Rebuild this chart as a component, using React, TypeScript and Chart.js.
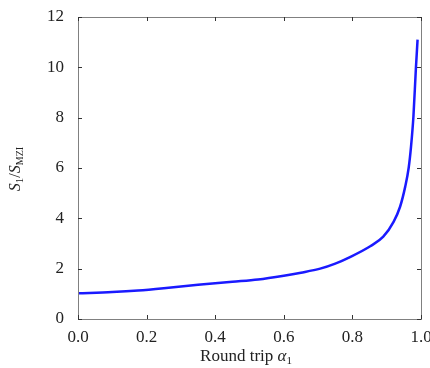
import React, { useEffect, useRef } from "react";
import { Chart, registerables } from "chart.js";

Chart.register(...registerables);

const alphaValues = [0, 0.1, 0.175, 0.25, 0.35, 0.45, 0.525, 0.6, 0.65, 0.706, 0.75, 0.793, 0.852, 0.89, 0.92, 0.939, 0.954, 0.964, 0.971, 0.978, 0.985, 0.99];
const ratioValues = [1.02, 1.07, 1.13, 1.22, 1.36, 1.48, 1.57, 1.72, 1.84, 2.0, 2.2, 2.46, 2.89, 3.27, 3.86, 4.46, 5.26, 6.0, 6.86, 8.06, 9.93, 11.1];
const xTicks = [0, 0.2, 0.4, 0.6, 0.8, 1.0];
const yTicks = [0, 2, 4, 6, 8, 10, 12];

const FONT = "'Liberation Serif', 'Times New Roman', serif";

const framePlugin = {
  id: "frame",
  afterDraw(chart: any) {
    const { ctx, chartArea: a, scales } = chart;
    const xs = scales.x;
    const ys = scales.y;
    ctx.save();
    ctx.strokeStyle = "#808080";
    ctx.lineWidth = 1;
    ctx.strokeRect(Math.round(a.left) + 0.5, Math.round(a.top) + 0.5, Math.round(a.right - a.left), Math.round(a.bottom - a.top));
    ctx.strokeStyle = "#333";
    const len = 4;
    ctx.beginPath();
    xTicks.forEach((v) => {
      const px = Math.round(xs.getPixelForValue(v)) + 0.5;
      ctx.moveTo(px, a.bottom);
      ctx.lineTo(px, a.bottom - len);
      ctx.moveTo(px, a.top);
      ctx.lineTo(px, a.top + len);
    });
    yTicks.forEach((v) => {
      const py = Math.round(ys.getPixelForValue(v)) + 0.5;
      ctx.moveTo(a.left, py);
      ctx.lineTo(a.left + len, py);
      ctx.moveTo(a.right, py);
      ctx.lineTo(a.right - len, py);
    });
    ctx.stroke();

    // Y title: S_1/S_MZI rotated
    ctx.fillStyle = "#222";
    ctx.textBaseline = "alphabetic";
    ctx.textAlign = "left";
    const parts: [string, string, number][] = [
      ["S", "italic 16px " + FONT, 0],
      ["1", "11px " + FONT, 3],
      ["/", "16px " + FONT, 0],
      ["S", "italic 16px " + FONT, 0],
      ["MZI", "10px " + FONT, 3],
    ];
    let total = 0;
    parts.forEach(([t, f]) => {
      ctx.font = f;
      total += ctx.measureText(t).width;
    });
    ctx.translate(20, 169);
    ctx.rotate(-Math.PI / 2);
    let x = -total / 2;
    parts.forEach(([t, f, dy]) => {
      ctx.font = f;
      ctx.fillText(t, x, dy);
      x += ctx.measureText(t).width;
    });
    ctx.setTransform(1, 0, 0, 1, 0, 0);

    // X title: Round trip α_1
    const xparts: [string, string, number][] = [
      ["Round trip ", "17px " + FONT, 0],
      ["α", "italic 17px " + FONT, 0],
      ["1", "11px " + FONT, 3],
    ];
    total = 0;
    xparts.forEach(([t, f]) => {
      ctx.font = f;
      total += ctx.measureText(t).width;
    });
    x = 246 - total / 2;
    xparts.forEach(([t, f, dy]) => {
      ctx.font = f;
      ctx.fillText(t, x, 361 + dy);
      x += ctx.measureText(t).width;
    });
    ctx.restore();
  },
};

export default function App() {
  const ref = useRef<HTMLCanvasElement>(null);
  useEffect(() => {
    if (!ref.current) return;
    const chart = new Chart(ref.current, {
      type: "line",
      data: {
        datasets: [
          {
            data: alphaValues.map((a, i) => ({ x: a, y: ratioValues[i] })),
            borderColor: "#1a1aff",
            borderWidth: 2.5,
            pointRadius: 0,
            fill: false,
            cubicInterpolationMode: "monotone",
          },
        ],
      },
      options: {
        animation: false,
        responsive: false,
        maintainAspectRatio: false,
        layout: { padding: { top: 17, right: 9, left: 0, bottom: 0 } },
        plugins: { legend: { display: false }, tooltip: { enabled: false } },
        scales: {
          x: {
            type: "linear",
            min: 0,
            max: 1,
            grid: { display: false, drawTicks: false },
            border: { display: false },
            ticks: {
              stepSize: 0.2,
              color: "#222",
              padding: 8,
              maxRotation: 0,
              font: { family: FONT, size: 17 },
              callback: (v: any) => Number(v).toFixed(1),
            },
            afterFit: (s: any) => {
              s.height = 49;
              s.paddingLeft = 0;
              s.paddingRight = 0;
            },
          },
          y: {
            min: 0,
            max: 12,
            grid: { display: false, drawTicks: false },
            border: { display: false },
            ticks: {
              stepSize: 2,
              color: "#222",
              padding: 14,
              font: { family: FONT, size: 17 },
            },
            afterFit: (s: any) => {
              s.width = 78;
              s.paddingTop = 0;
              s.paddingBottom = 0;
            },
          },
        },
      },
      plugins: [framePlugin],
    } as any);
    return () => chart.destroy();
  }, []);
  return (
    <div style={{ position: "fixed", left: 0, top: 0, width: 430, height: 368, background: "#fff" }}>
      <canvas ref={ref} width={430} height={368} />
    </div>
  );
}
